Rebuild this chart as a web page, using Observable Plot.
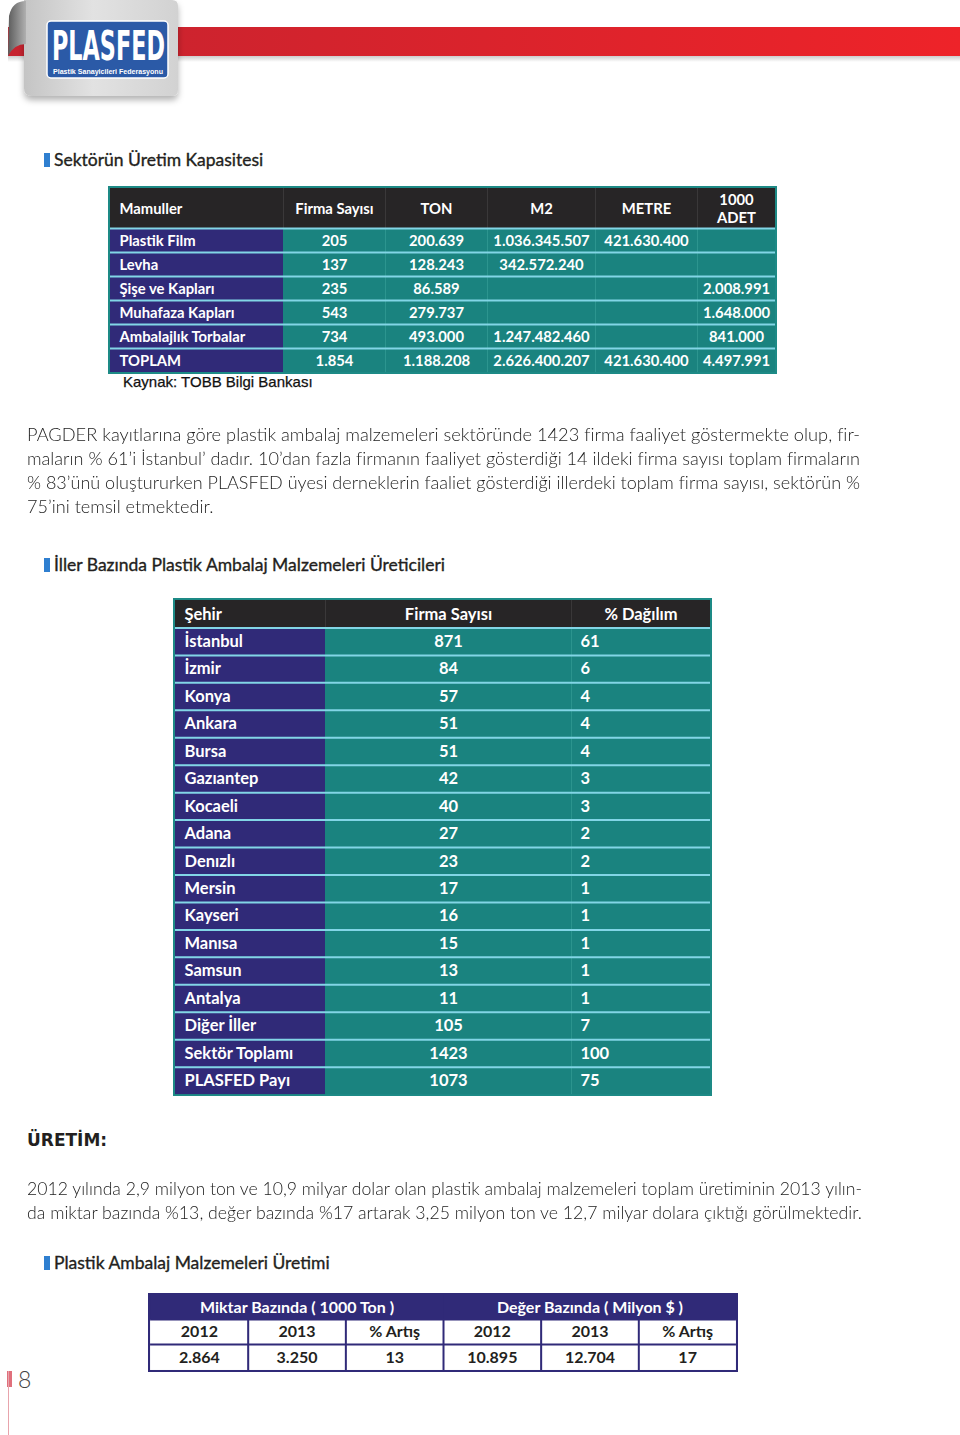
<!DOCTYPE html>
<html lang="tr"><head><meta charset="utf-8">
<script src="https://cdn.jsdelivr.net/npm/d3@7"></script>
<script src="https://cdn.jsdelivr.net/npm/@observablehq/plot@0.6"></script>
<style>
html,body{margin:0;padding:0;background:#fff;}
#page{position:relative;width:960px;height:1435px;overflow:hidden;font-family:Lato,"Open Sans",sans-serif;color:#231f20;}
.abs{position:absolute;}
.title{position:absolute;left:44px;font-size:17.5px;line-height:20px;color:#231f20;white-space:nowrap;-webkit-text-stroke:0.35px #231f20;}
.title .mk{display:inline-block;width:6px;height:14px;background:#2f7fd0;margin-right:4px;vertical-align:-1px;}
.para{position:absolute;left:27px;font-size:17px;font-weight:300;line-height:24px;color:#1c1c1c;}
.para span{display:block;white-space:nowrap;width:max-content;transform-origin:0 50%;}
</style></head>
<body><div id="page">
<svg class="abs" style="left:0;top:0" width="960" height="110">
 <defs>
  <linearGradient id="red" x1="0" x2="1"><stop offset="0" stop-color="#c6232f"/><stop offset="1" stop-color="#ee2329"/></linearGradient>
  <linearGradient id="redsh" x1="0" y1="0" x2="0" y2="1"><stop offset="0" stop-color="#000" stop-opacity="0.2"/><stop offset="1" stop-color="#000" stop-opacity="0"/></linearGradient>
  <linearGradient id="tab" x1="0" x2="1"><stop offset="0" stop-color="#c4c4c4"/><stop offset="0.45" stop-color="#e2e2e2"/><stop offset="1" stop-color="#d2d2d2"/></linearGradient>
  <linearGradient id="curl" x1="0" x2="1"><stop offset="0" stop-color="#5c5c5c"/><stop offset="1" stop-color="#b0b0b0"/></linearGradient>
  <filter id="sh" x="-20%" y="-20%" width="140%" height="140%"><feDropShadow dx="0" dy="4" stdDeviation="3" flood-opacity="0.3"/></filter>
 </defs>
 <rect x="8" y="27" width="952" height="29" fill="url(#red)"/>
 <rect x="8" y="56" width="952" height="6" fill="url(#redsh)"/>
 <path d="M24 0 H172 Q178 0 178 6 V90 Q178 96 171 96 H32 Q24 96 24 88 Z" fill="url(#tab)" filter="url(#sh)"/>
 <path d="M26 1 Q12 1 9 16 L8 56 Q14 44 26 44 Z" fill="url(#curl)"/>
 <rect x="47" y="21" width="121" height="57" rx="4" fill="#2b5aa7" stroke="#fff" stroke-width="1.5"/>
 <text x="52" y="60" fill="#fff" font-family="'DejaVu Sans Condensed','Liberation Sans Narrow','DejaVu Sans',sans-serif" font-weight="bold" font-size="40" textLength="113" lengthAdjust="spacingAndGlyphs">PLASFED</text>
 <text x="53" y="73.5" fill="#fff" font-family="'Liberation Sans',sans-serif" font-weight="bold" font-size="7" textLength="110" lengthAdjust="spacingAndGlyphs">Plastik Sanayicileri Federasyonu</text>
</svg>

<div class="title" style="top:150px"><span class="mk"></span>Sektörün Üretim Kapasitesi</div>
<div id="t1" class="abs" style="left:108px;top:186px"></div>
<div class="abs" style="left:123px;top:373px;font-family:'Liberation Sans',Arial,sans-serif;font-size:15px;line-height:18px;color:#111;-webkit-text-stroke:0.25px #111;">Kaynak: TOBB Bilgi Bankası</div>

<div class="para" style="top:423px" data-w="833">
 <span class="fit">PAGDER kayıtlarına göre plastik ambalaj malzemeleri sektöründe 1423 firma faaliyet göstermekte olup, fir-</span>
 <span class="fit">maların % 61’i İstanbul’ dadır. 10’dan fazla firmanın faaliyet gösterdiği 14 ildeki firma sayısı toplam firmaların</span>
 <span class="fit">% 83’ünü oluştururken PLASFED üyesi derneklerin faaliet gösterdiği illerdeki toplam firma sayısı, sektörün %</span>
 <span class="last">75’ini temsil etmektedir.</span>
</div>

<div class="title" style="top:555px"><span class="mk"></span>İller Bazında Plastik Ambalaj Malzemeleri Üreticileri</div>
<div id="t2" class="abs" style="left:173px;top:598px"></div>

<div class="abs" style="left:27px;top:1128px;font-family:'DejaVu Sans',sans-serif;font-weight:bold;font-size:17px;line-height:24px;color:#231f20;">ÜRETİM:</div>

<div class="para" style="top:1177px" data-w="835">
 <span class="fit">2012 yılında 2,9 milyon ton ve 10,9 milyar dolar olan plastik ambalaj malzemeleri toplam üretiminin 2013 yılın-</span>
 <span class="fit">da miktar bazında %13, değer bazında %17 artarak 3,25 milyon ton ve 12,7 milyar dolara çıktığı görülmektedir.</span>
</div>

<div class="title" style="top:1253px"><span class="mk"></span>Plastik Ambalaj Malzemeleri Üretimi</div>
<div id="t3" class="abs" style="left:148px;top:1293px"></div>

<div class="abs" style="left:7px;top:1371px;width:5px;height:16px;background:#e0707c;"></div>
<div class="abs" style="left:8px;top:1371px;width:1px;height:64px;background:#e8a4ac;"></div>
<div class="abs" style="left:18px;top:1366px;font-family:Lato,sans-serif;font-weight:300;font-size:23px;line-height:26px;color:#444;">8</div>
</div>

<script>
// ---------- DATA ----------
// Table 1: Sektörün Üretim Kapasitesi
const capHeaders = ["Mamuller", "Firma Sayısı", "TON", "M2", "METRE", "1000\nADET"];
const products = ["Plastik Film", "Levha", "Şişe ve Kapları", "Muhafaza Kapları", "Ambalajlık Torbalar", "TOPLAM"];
const firmCount = [205, 137, 235, 543, 734, 1854];
const tonValues = [200639, 128243, 86589, 279737, 493000, 1188208];
const m2Values = [1036345507, 342572240, null, null, 1247482460, 2626400207];
const metreValues = [421630400, null, null, null, null, 421630400];
const adetValues = [null, null, 2008991, 1648000, 841000, 4497991];

// Table 2: İller Bazında Plastik Ambalaj Malzemeleri Üreticileri
const cityHeaders = ["Şehir", "Firma Sayısı", "% Dağılım"];
const cities = ["İstanbul", "İzmir", "Konya", "Ankara", "Bursa", "Gazıantep", "Kocaeli", "Adana", "Denızlı", "Mersin", "Kayseri", "Manısa", "Samsun", "Antalya", "Diğer İller", "Sektör Toplamı", "PLASFED Payı"];
const cityFirms = [871, 84, 57, 51, 51, 42, 40, 27, 23, 17, 16, 15, 13, 11, 105, 1423, 1073];
const cityShare = [61, 6, 4, 4, 4, 3, 3, 2, 2, 1, 1, 1, 1, 1, 7, 100, 75];

// Table 3: Plastik Ambalaj Malzemeleri Üretimi
const prodGroups = ["Miktar Bazında ( 1000 Ton )", "Değer Bazında ( Milyon $ )"];
const prodCols = ["2012", "2013", "% Artış"];
const qtyValues = [2864, 3250, 13];
const valValues = [10895, 12704, 17];

// ---------- LAYOUT / STYLE ----------
const col1W = [173, 102, 102, 108, 102, 78];
const row1H = [40, 24, 24, 24, 24, 24, 24];
const col2W = [150, 246, 139];
const row2H = Array(18).fill(27.45);
const col3W = Array(6).fill(97.67);
const row3H = [24, 25, 26];
const C = {purple: "#302a78", teal: "#1a837f", dark: "#272526", cyan: "#82d5e6", white: "#ffffff", ink: "#231f20", tealBorder: "#1d8a86", subtle: "#2c958f", darkLine: "#3a3839"};

const fmt = d3.formatLocale({decimal: ",", thousands: ".", grouping: [3], currency: ["", "$"]}).format(",d");
const show = v => v == null ? "" : fmt(v);

function tableChart({colW, rowH, cells, hRules, vRules, border, font}) {
  const W = d3.sum(colW), H = d3.sum(rowH);
  const xe = [0, ...d3.cumsum(colW)], ye = [0, ...d3.cumsum(rowH)];
  const data = cells.map(d => ({...d, x1: xe[d.c], x2: xe[d.c + (d.span || 1)], y1: ye[d.r], y2: ye[d.r + 1]}));
  const hr = hRules(xe, ye, W, H), vr = vRules(xe, ye, W, H);
  const m = border.width;
  const textOpts = {y: d => (d.y1 + d.y2) / 2, text: "text", fill: "color", fontSize: font.size, fontWeight: "bold", fontFamily: font.family, lineHeight: font.lh || 1, dy: font.dy || 0};
  return Plot.plot({
    width: W + 2 * m, height: H + 2 * m, margin: m,
    x: {type: "linear", domain: [0, W], range: [m, m + W], axis: null},
    y: {type: "linear", domain: [0, H], range: [m, m + H], axis: null},
    color: {type: "identity"},
    style: {background: border.color, fontFamily: font.family, overflow: "visible"},
    marks: [
      Plot.rect(data, {x1: "x1", x2: "x2", y1: "y1", y2: "y2", fill: "fill"}),
      Plot.ruleX(vr, {x: "x", y1: "y1", y2: "y2", stroke: "stroke", strokeWidth: "sw"}),
      Plot.ruleY(hr, {y: "y", x1: "x1", x2: "x2", stroke: "stroke", strokeWidth: "sw"}),
      Plot.text(data.filter(d => d.anchor === "middle"), {...textOpts, x: d => (d.x1 + d.x2) / 2, textAnchor: "middle"}),
      Plot.text(data.filter(d => d.anchor === "start"), {...textOpts, x: "x1", textAnchor: "start", dx: font.pad})
    ]
  });
}

// Table 1
const t1cells = [];
capHeaders.forEach((h, c) => t1cells.push({r: 0, c, text: h, fill: C.dark, color: C.white, anchor: c ? "middle" : "start"}));
products.forEach((p, i) => {
  const r = i + 1;
  t1cells.push({r, c: 0, text: p, fill: C.purple, color: C.white, anchor: "start"});
  [firmCount, tonValues, m2Values, metreValues, adetValues].forEach((arr, j) =>
    t1cells.push({r, c: j + 1, text: show(arr[i]), fill: C.teal, color: C.white, anchor: "middle"}));
});
document.getElementById("t1").append(tableChart({
  colW: col1W, rowH: row1H, cells: t1cells,
  border: {width: 2, color: C.tealBorder},
  font: {size: 14.8, family: "Lato, sans-serif", pad: 9, lh: 1.25, dy: -0.5},
  hRules: (xe, ye, W) => ye.slice(1, -1).map(y => ({y, x1: 0, x2: W, stroke: C.cyan, sw: 2})),
  vRules: (xe, ye, W, H) => [
    ...xe.slice(1, -1).map(x => ({x, y1: 0, y2: ye[1], stroke: C.darkLine, sw: 1})),
    ...xe.slice(2, -1).map(x => ({x, y1: ye[1], y2: H, stroke: C.subtle, sw: 1}))
  ]
}));

// Table 2
const t2cells = [];
cityHeaders.forEach((h, c) => t2cells.push({r: 0, c, text: h, fill: C.dark, color: C.white, anchor: c ? "middle" : "start"}));
cities.forEach((city, i) => {
  const r = i + 1;
  t2cells.push({r, c: 0, text: city, fill: C.purple, color: C.white, anchor: "start"});
  t2cells.push({r, c: 1, text: String(cityFirms[i]), fill: C.teal, color: C.white, anchor: "middle"});
  t2cells.push({r, c: 2, text: String(cityShare[i]), fill: C.teal, color: C.white, anchor: "start"});
});
document.getElementById("t2").append(tableChart({
  colW: col2W, rowH: row2H, cells: t2cells,
  border: {width: 2, color: C.tealBorder},
  font: {size: 16.5, family: "Lato, sans-serif", pad: 9, dy: 0},
  hRules: (xe, ye, W) => ye.slice(1, -1).map(y => ({y, x1: 0, x2: W, stroke: C.cyan, sw: 2})),
  vRules: (xe, ye, W, H) => [
    ...xe.slice(1, -1).map(x => ({x, y1: 0, y2: ye[1], stroke: C.darkLine, sw: 1})),
    ...xe.slice(2, -1).map(x => ({x, y1: ye[1], y2: H, stroke: C.subtle, sw: 1}))
  ]
}));

// Table 3
const t3cells = [];
prodGroups.forEach((g, k) => t3cells.push({r: 0, c: k * 3, span: 3, text: g, fill: C.purple, color: C.white, anchor: "middle"}));
[qtyValues, valValues].forEach((vals, k) => prodCols.forEach((h, j) => {
  t3cells.push({r: 1, c: k * 3 + j, text: h, fill: C.white, color: C.ink, anchor: "middle"});
  t3cells.push({r: 2, c: k * 3 + j, text: show(vals[j]), fill: C.white, color: C.ink, anchor: "middle"});
}));
document.getElementById("t3").append(tableChart({
  colW: col3W, rowH: row3H, cells: t3cells,
  border: {width: 2, color: C.purple},
  font: {size: 16, family: "Lato, sans-serif", pad: 0, dy: 0},
  hRules: (xe, ye, W) => ye.slice(1, -1).map(y => ({y, x1: 0, x2: W, stroke: C.purple, sw: 2})),
  vRules: (xe, ye, W, H) => xe.slice(1, -1).map(x => ({x, y1: ye[1], y2: H, stroke: C.purple, sw: 2}))
}));

// Fit paragraph lines to the justified column width
function fitParas() {
  document.querySelectorAll(".para").forEach(p => {
    const target = +p.dataset.w;
    const scales = [];
    p.querySelectorAll("span.fit").forEach(s => {
      s.style.transform = "none";
      const k = target / s.getBoundingClientRect().width;
      scales.push(k);
      s.style.transform = `scaleX(${k})`;
    });
    const avg = d3.mean(scales);
    p.querySelectorAll("span.last").forEach(s => s.style.transform = `scaleX(${avg})`);
  });
}
fitParas();
if (document.fonts && document.fonts.ready) document.fonts.ready.then(fitParas);
</script>
</body></html>
